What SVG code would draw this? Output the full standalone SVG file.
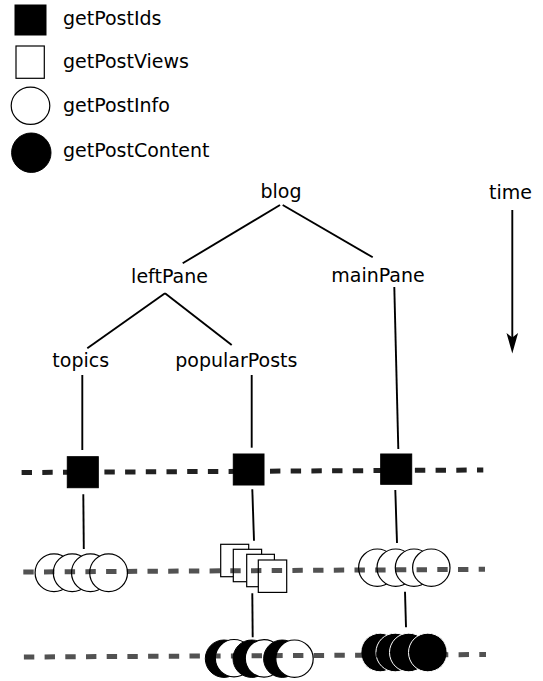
<svg xmlns="http://www.w3.org/2000/svg" width="543" height="681" viewBox="0 0 543 681">
<style>
text{font-family:"DejaVu Sans","Liberation Sans",sans-serif;font-size:19px;fill:#000}
.c{text-anchor:middle}
.ln{stroke:#000;stroke-width:1.9;fill:none;stroke-linecap:butt}
.blk{fill:#000;stroke:#000;stroke-width:1}
.wrect{fill:#fff;stroke:#000;stroke-width:1.2}
.wc{fill:#fff;stroke:#000;stroke-width:1.2}
.bc{fill:#000;stroke:#fff;stroke-width:1}
.bcb{fill:#000;stroke:#000;stroke-width:1}
.dash{fill:none;stroke:#000;stroke-width:5;stroke-dasharray:10.4 10.3}
</style>
<rect width="543" height="681" fill="#fff"/>
<g id="legend">
  <g id="legend-getPostIds"><rect class="blk" x="15" y="5" width="31" height="30"/><text x="63" y="25">getPostIds</text></g>
  <g id="legend-getPostViews"><rect class="wrect" x="16" y="46" width="28.3" height="32.3"/><text x="63" y="68">getPostViews</text></g>
  <g id="legend-getPostInfo"><ellipse class="wc" cx="30.5" cy="105.8" rx="19.3" ry="18.6"/><text x="63" y="111.5">getPostInfo</text></g>
  <g id="legend-getPostContent"><circle class="bcb" cx="31.3" cy="152.7" r="19.7"/><text x="63" y="156.5">getPostContent</text></g>
</g>
<g id="connectors">
  <path class="ln" d="M280,205 L182.7,263.3"/>
  <path class="ln" d="M282.7,205 L372.7,257.3"/>
  <path class="ln" d="M165,293.3 L87.3,348.3"/>
  <path class="ln" d="M165,293.3 L231.7,345"/>
  <path class="ln" d="M394.3,287 L398.3,449"/>
  <path class="ln" d="M82.3,375 L82.3,450"/>
  <path class="ln" d="M251.7,375 L251.7,447.7"/>
  <path class="ln" d="M83.3,494.3 L83.8,549"/>
  <path class="ln" d="M252.3,489.3 L254,540.7"/>
  <path class="ln" d="M395.3,490 L397,543"/>
  <path class="ln" d="M252.3,593.3 L252.7,637.3"/>
  <path class="ln" d="M405,591.7 L406,627.3"/>
</g>
<g id="blog"><text class="c" x="281" y="198">blog</text></g>
<g id="leftPane"><text class="c" x="169.5" y="283">leftPane</text></g>
<g id="mainPane"><text class="c" x="378" y="281.5">mainPane</text></g>
<g id="topics"><text class="c" x="80.7" y="366.5">topics</text></g>
<g id="popularPosts"><text class="c" x="236.3" y="366.5">popularPosts</text></g>
<g id="time">
  <text class="c" x="510.5" y="199">time</text>
  <path class="ln" d="M512.3,210 L512.3,340"/>
  <path d="M512.3,353.5 L506.5,333 L512.3,337.5 L518.1,333 Z" fill="#000"/>
</g>
<g id="topics-ids"><rect class="blk" x="67.3" y="456.7" width="31" height="31"/></g>
<g id="popularPosts-ids"><rect class="blk" x="233.3" y="454" width="30.7" height="31"/></g>
<g id="mainPane-ids"><rect class="blk" x="380.7" y="454" width="31" height="30.3"/></g>
<g id="topics-info">
  <circle class="wc" cx="54" cy="572.8" r="18.9"/>
  <circle class="wc" cx="72.2" cy="572.8" r="18.9"/>
  <circle class="wc" cx="90.4" cy="572.8" r="18.9"/>
  <circle class="wc" cx="108.6" cy="572.8" r="18.9"/>
</g>
<g id="popularPosts-views">
  <rect class="wrect" x="220.7" y="544.3" width="28" height="32.4"/>
  <rect class="wrect" x="233.3" y="549.3" width="28.3" height="32.4"/>
  <rect class="wrect" x="246.7" y="554.3" width="27.7" height="32.4"/>
  <rect class="wrect" x="258.3" y="560" width="28.4" height="32.4"/>
</g>
<g id="mainPane-info">
  <circle class="wc" cx="377.3" cy="567.7" r="18.7"/>
  <circle class="wc" cx="395.7" cy="567.7" r="18.7"/>
  <circle class="wc" cx="414" cy="567.7" r="18.7"/>
  <circle class="wc" cx="431.3" cy="567.7" r="18.7"/>
</g>
<g id="popularPosts-content">
  <circle class="bcb" cx="224" cy="658.7" r="18.7"/>
  <circle class="wc" cx="234" cy="658.2" r="18.7"/>
  <circle class="bcb" cx="251.7" cy="658.7" r="18.7"/>
  <circle class="wc" cx="264" cy="658.4" r="18.7"/>
  <circle class="bcb" cx="282.3" cy="658.7" r="18.7"/>
  <circle class="wc" cx="294.5" cy="658.7" r="18.7"/>
</g>
<g id="mainPane-content">
  <circle class="bc" cx="380.2" cy="652.5" r="19.3"/>
  <circle class="bc" cx="395.2" cy="652.5" r="19.3"/>
  <circle class="bc" cx="408.8" cy="652.5" r="19.3"/>
  <circle class="bc" cx="427.8" cy="652.5" r="19.3"/>
</g>
<g id="timelines">
  <path class="dash" stroke-opacity="0.87" d="M21.6,472.5 L483.3,470"/>
  <path class="dash" stroke-opacity="0.68" d="M23.3,572 L485,569.3"/>
  <path class="dash" stroke-opacity="0.68" d="M23.9,657 L486,654.5"/>
</g>
</svg>
